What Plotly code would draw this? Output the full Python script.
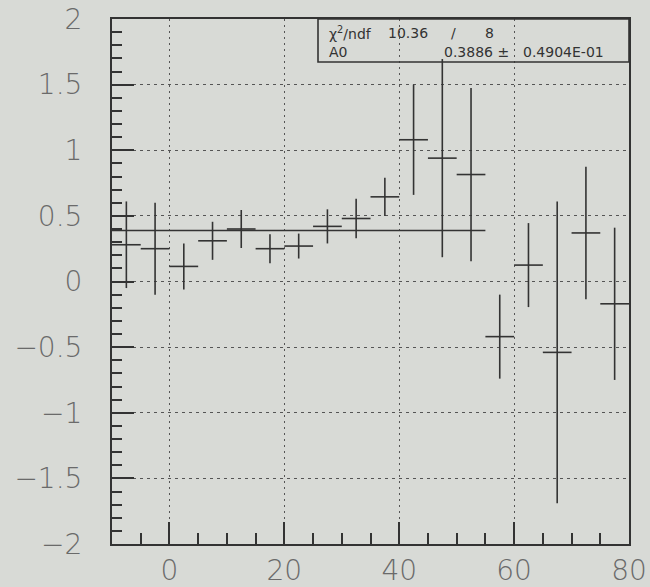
import plotly.graph_objects as go

# ---- data ----
bin_centers = [-7.5, -2.5, 2.5, 7.5, 12.5, 17.5, 22.5, 27.5, 32.5, 37.5,
               42.5, 47.5, 52.5, 57.5, 62.5, 67.5, 72.5, 77.5]
values = [0.28, 0.25, 0.115, 0.31, 0.40, 0.25, 0.27, 0.42, 0.48, 0.645,
          1.08, 0.94, 0.815, -0.42, 0.125, -0.54, 0.37, -0.17]
errors = [0.33, 0.35, 0.175, 0.145, 0.145, 0.11, 0.095, 0.13, 0.15, 0.145,
          0.42, 0.755, 0.66, 0.32, 0.32, 1.15, 0.505, 0.58]
bin_half_width = 2.5

fit_range = [-10, 55]
fit_A0 = 0.3886
fit_A0_err = "0.4904E-01"
chi2 = "10.36"
ndf = "8"

x_ticks = [0, 20, 40, 60, 80]
x_labels = ["0", "20", "40", "60", "80"]
y_ticks = [-2, -1.5, -1, -0.5, 0, 0.5, 1, 1.5, 2]
y_labels = ["\u22122", "\u22121.5", "\u22121", "\u22120.5", "0", "0.5", "1", "1.5", "2"]

BG = "#d8dad6"
INK = "#333333"
LABEL = "#6a6a6a"

fig = go.Figure()

fig.add_trace(go.Scatter(
    x=fit_range, y=[fit_A0] * len(fit_range), mode="lines",
    line=dict(color=INK, width=1.6), hoverinfo="skip", showlegend=False))

fig.add_trace(go.Scatter(
    x=bin_centers, y=values, mode="markers",
    marker=dict(size=1, color=INK),
    error_x=dict(type="constant", value=bin_half_width, width=0, color=INK, thickness=1.6),
    error_y=dict(type="data", array=errors, width=0, color=INK, thickness=1.6),
    showlegend=False))

L, R, T, B = 112, 21, 19, 43
W, H = 650, 587
pw, ph = W - L - R, H - T - B

def px(x):
    return (x - L) / pw

def py(y):
    return (H - B - y) / ph

axis_common = dict(
    showline=True, linecolor=INK, linewidth=2, mirror=True,
    ticks="inside", ticklen=22, tickwidth=1.5, tickcolor=INK,
    showgrid=True, gridcolor="#555555", gridwidth=1.4,
    zeroline=False, automargin=False,
    tickfont=dict(family="DejaVu Sans", size=28, color=LABEL, weight=200),
)

fig.update_xaxes(
    range=[-10, 80], tickvals=x_ticks, ticktext=x_labels,
    griddash="2px,4px",
    minor=dict(dtick=5, tick0=0, ticks="inside", ticklen=11, tickcolor=INK, tickwidth=1.5, showgrid=False),
    ticklabelstandoff=0,
    **axis_common)
fig.update_yaxes(
    range=[-2, 2], tickvals=y_ticks, ticktext=y_labels,
    griddash="3px,4px",
    minor=dict(dtick=0.1, tick0=0, ticks="inside", ticklen=10, tickcolor=INK, tickwidth=1.5, showgrid=False),
    ticklabelstandoff=22,
    **axis_common)

# stats box
fig.add_shape(type="rect", xref="paper", yref="paper",
              x0=px(318), x1=1, y0=py(62), y1=1,
              line=dict(color=INK, width=1.6), fillcolor="rgba(0,0,0,0)")

sfont = dict(family="DejaVu Sans", size=14, color=INK)
def ann(text, x, y, xanchor):
    fig.add_annotation(text=text, xref="paper", yref="paper", x=px(x), y=py(y),
                       xanchor=xanchor, yanchor="middle", showarrow=False, font=sfont)

ann("\u03c7<sup>2</sup>/ndf", 327, 33, "left")
ann(chi2, 386, 33, "left")
ann("/", 453, 33, "center")
ann(ndf, 489, 33, "center")
ann("A0", 327, 52, "left")
ann(f"{fit_A0:.4f} \u00b1", 511, 52, "right")
ann(fit_A0_err, 521, 52, "left")

fig.update_layout(
    width=W, height=H,
    margin=dict(l=L, r=R, t=T, b=B),
    paper_bgcolor=BG, plot_bgcolor=BG,
    showlegend=False,
)

fig.write_html("out.html", config={"displayModeBar": False},
               post_script="document.body.style.margin='0px';document.body.style.overflow='hidden';")
